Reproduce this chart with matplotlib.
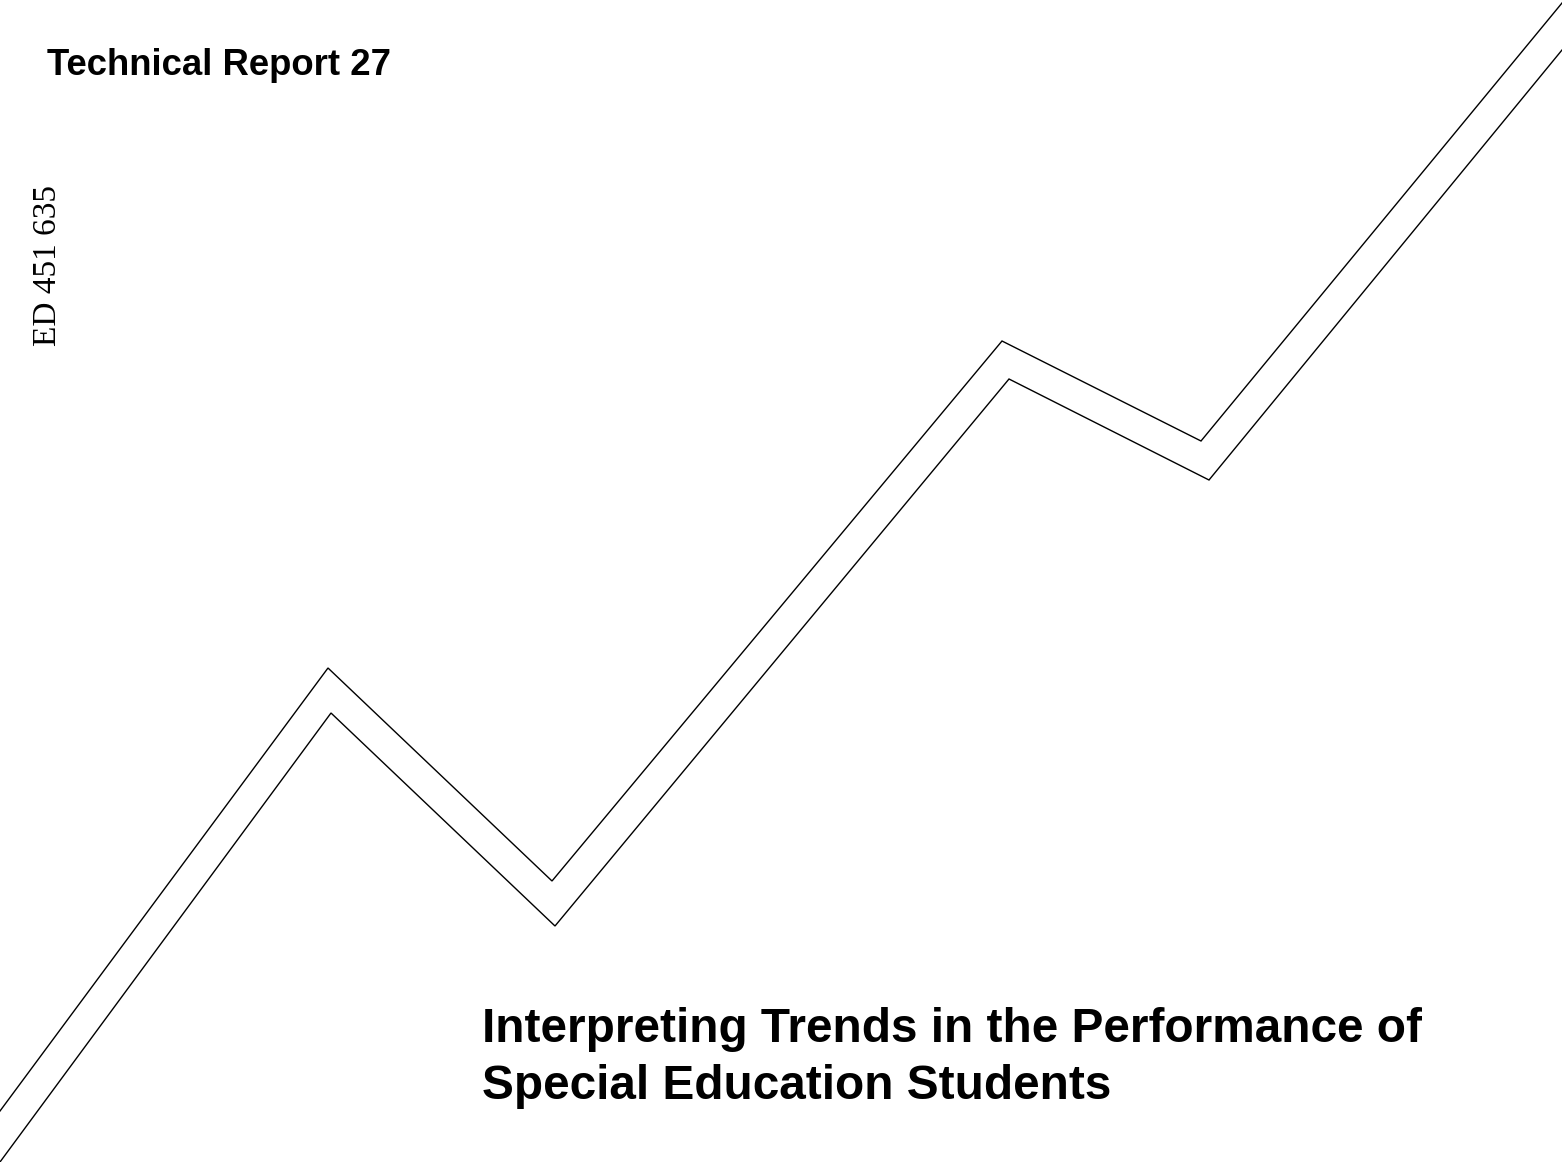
"""Cover page of Technical Report 27: double zig-zag trend line with titles"""

import matplotlib
matplotlib.use("Agg")
import matplotlib.pyplot as plt

# Page size in pixels (used as data space for the drawing)
PAGE_W = 1562
PAGE_H = 1162

# Vertices of the upper trend line (x, y measured from top-left)
UPPER_X = [0, 328, 552, 1002, 1201, 1562]
UPPER_Y = [1111, 668, 881, 341, 441, 3]

# Vertices of the lower trend line
LOWER_X = [0, 331, 555, 1009, 1209, 1562]
LOWER_Y = [1162, 713, 926, 379, 480, 50]

# Text on the cover
REPORT_LABEL = "Technical Report 27"
ERIC_NUMBER = "ED 451 635"
TITLE_LINES = ["Interpreting Trends in the Performance of",
               "Special Education Students"]

fig = plt.figure(figsize=(PAGE_W / 100, PAGE_H / 100), dpi=100)
ax = fig.add_axes([0, 0, 1, 1])
ax.set_xlim(0, PAGE_W)
ax.set_ylim(PAGE_H, 0)
ax.axis("off")

# Draw the two parallel lines
ax.plot(UPPER_X, UPPER_Y, color="black", lw=1.0, solid_joinstyle="miter")
ax.plot(LOWER_X, LOWER_Y, color="black", lw=1.0, solid_joinstyle="miter")

# Report label top left
ax.text(47, 75, REPORT_LABEL, fontsize=26.3, fontweight="bold",
        family="Liberation Sans", ha="left", va="baseline")

# Vertical ERIC number
ax.text(48, 265, ERIC_NUMBER, fontsize=24, family="Liberation Serif",
        rotation=90, ha="center", va="center")

# Title bottom right
ax.text(482, 1042, TITLE_LINES[0], fontsize=34.4, fontweight="bold",
        family="Liberation Sans", ha="left", va="baseline")
ax.text(482, 1099, TITLE_LINES[1], fontsize=34.4, fontweight="bold",
        family="Liberation Sans", ha="left", va="baseline")

plt.savefig("out.png", dpi=100)
